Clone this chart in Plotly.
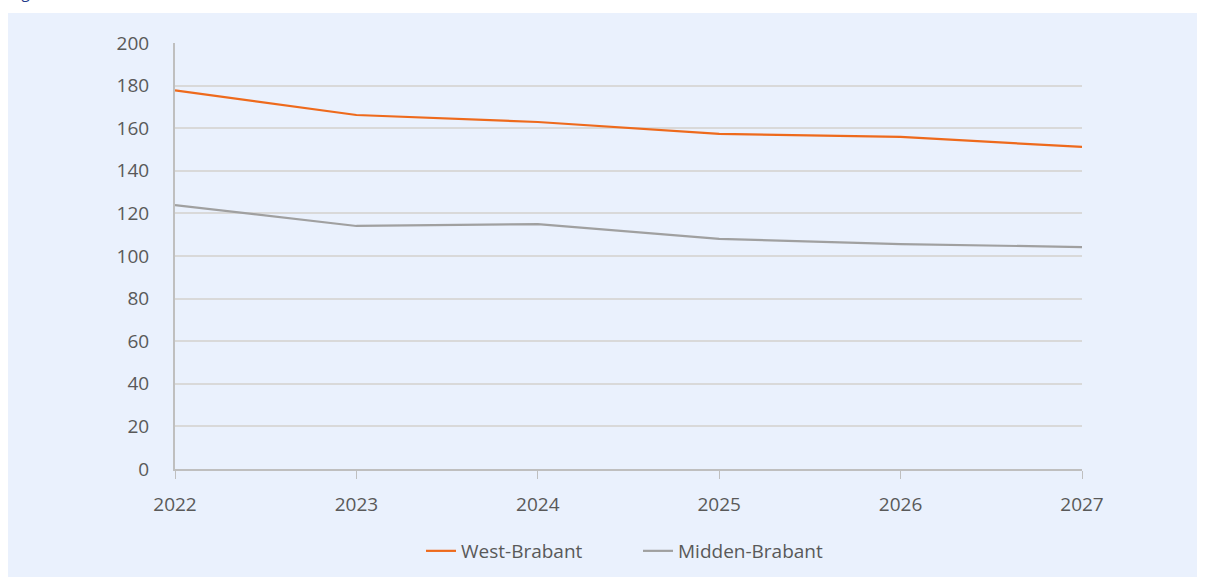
import plotly.graph_objects as go

years = [2022, 2023, 2024, 2025, 2026, 2027]
west_brabant = [177.8, 166.2, 162.9, 157.3, 155.9, 151.2]
midden_brabant = [123.9, 114.1, 115.0, 108.0, 105.6, 104.2]
y_ticks = [0, 20, 40, 60, 80, 100, 120, 140, 160, 180, 200]

W, H = 1213, 577
L, R, T, B = 175, 1082, 43, 469

fig = go.Figure()
fig.add_trace(go.Scatter(x=years, y=west_brabant, mode="lines", name="West-Brabant",
                         line=dict(color="#EE6A1C", width=2.2)))
fig.add_trace(go.Scatter(x=years, y=midden_brabant, mode="lines", name="Midden-Brabant",
                         line=dict(color="#A0A0A0", width=2.2)))

pw, ph = R - L, B - T
def px(x): return (x - L) / pw
def py(y): return (B - y) / ph

fig.add_shape(type="rect", xref="paper", yref="paper", layer="below",
              x0=px(8), x1=px(1197), y0=py(600), y1=py(13),
              fillcolor="#EAF1FD", line=dict(width=0))

fig.add_annotation(text="Figuur", xref="paper", yref="paper", x=px(8), y=py(-8),
                   xanchor="left", yanchor="middle", showarrow=False,
                   font=dict(family="Open Sans", size=15, color="#1F3A8A"))

fig.update_layout(
    width=W, height=H,
    margin=dict(l=L, r=W - R, t=T, b=H - B, autoexpand=False),
    paper_bgcolor="white", plot_bgcolor="rgba(0,0,0,0)",
    font=dict(family="Open Sans", size=19, color="#595959"),
    legend=dict(orientation="h", x=px(638), xanchor="center", y=py(551), yanchor="middle",
                font=dict(size=19, color="#595959"), bgcolor="rgba(0,0,0,0)",
                entrywidth=172, entrywidthmode="pixels"),
    showlegend=True,
)
fig.update_xaxes(range=[2022, 2027], tickvals=years, ticks="outside", ticklen=8,
                 tickcolor="#BFBFBF", showline=True, linecolor="#BFBFBF", linewidth=2,
                 showgrid=False, zeroline=False, ticklabelstandoff=9, automargin=False)
fig.update_yaxes(range=[0, 200], tickvals=y_ticks, showline=True, linecolor="#BFBFBF",
                 linewidth=2, gridcolor="#D9D9D9", gridwidth=2, zeroline=False,
                 ticks="", ticklabelstandoff=20, automargin=False)

fig.write_html("out.html", config={"displayModeBar": False},
               post_script="document.body.style.margin='0';document.body.style.overflow='hidden';")
